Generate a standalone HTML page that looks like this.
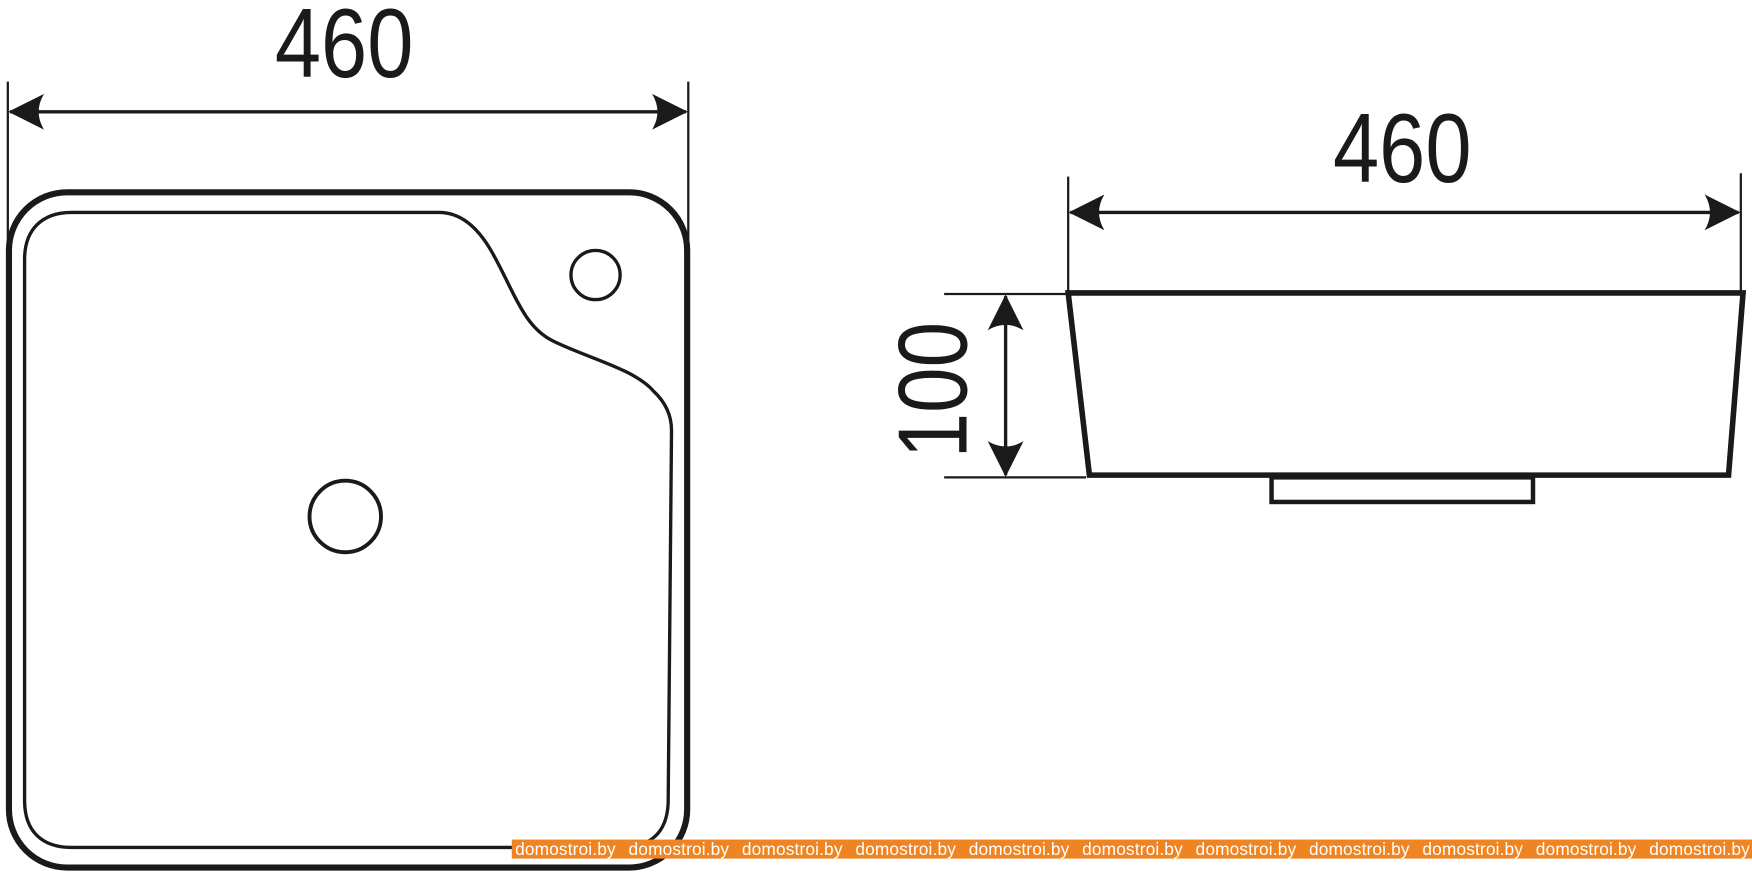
<!DOCTYPE html>
<html><head><meta charset="utf-8"><style>html,body{margin:0;padding:0;background:#fff}svg{display:block}</style></head>
<body>
<svg width="1752" height="872" viewBox="0 0 1568 780" preserveAspectRatio="none" xmlns="http://www.w3.org/2000/svg">
<defs>
<marker id="a" viewBox="0 0 20 20" refX="19" refY="10" markerWidth="32" markerHeight="32" markerUnits="userSpaceOnUse" orient="auto-start-reverse">
<path d="M0,0 L20,10 L0,20 Q6,10 0,0 Z" fill="#1a1a1a"/>
</marker>
</defs>
<g stroke="#1a1a1a" fill="none">
<line x1="7" y1="73" x2="7" y2="225" stroke-width="2"/>
<line x1="616" y1="73" x2="616" y2="225" stroke-width="2"/>
<line x1="9" y1="100" x2="614" y2="100" stroke-width="3" marker-start="url(#a)" marker-end="url(#a)"/>
<rect x="8" y="172" width="607" height="604" rx="52" stroke-width="5.5"/>
<path d="M22,232 C22,205 38,190 64,190 L393,190 Q420,190 440,225 C460,260 468,292 495,305 C525,320 568,330 585,350 Q601,365 601,385 L598,718 C597,745 582,758 555,758 L64,758 C38,758 22,744 22,716 Z" stroke-width="3"/>
<circle cx="533" cy="246" r="22" stroke-width="3"/>
<circle cx="309" cy="462" r="32" stroke-width="3.5"/>
<line x1="956" y1="158" x2="956" y2="262" stroke-width="2"/>
<line x1="1558" y1="155" x2="1558" y2="262" stroke-width="2"/>
<line x1="958" y1="190" x2="1556" y2="190" stroke-width="3" marker-start="url(#a)" marker-end="url(#a)"/>
<path d="M956,262 L1560,262 L1547,425 L975,425 Z" stroke-width="5" stroke-linejoin="miter"/>
<rect x="1138" y="427" width="234" height="22" stroke-width="4"/>
<line x1="845" y1="263" x2="955" y2="263" stroke-width="2"/>
<line x1="845" y1="427" x2="972" y2="427" stroke-width="2"/>
<line x1="900" y1="265" x2="900" y2="425" stroke-width="3" marker-start="url(#a)" marker-end="url(#a)"/>
</g>
<g font-family="Liberation Sans, sans-serif" fill="#1a1a1a">
<text x="308" y="69" font-size="88" text-anchor="middle" textLength="124" lengthAdjust="spacingAndGlyphs">460</text>
<text x="1255" y="163" font-size="88" text-anchor="middle" textLength="124" lengthAdjust="spacingAndGlyphs">460</text>
<text transform="translate(865,349) rotate(-90)" font-size="88" text-anchor="middle" textLength="122" lengthAdjust="spacingAndGlyphs">100</text>
</g>
<rect x="458" y="751" width="1110" height="17" fill="#ef8422"/>
<g font-family="Liberation Sans, sans-serif" font-size="15.5" fill="#fff">
<text x="461" y="765" textLength="90">domostroi.by</text><text x="562.5" y="765" textLength="90">domostroi.by</text><text x="664" y="765" textLength="90">domostroi.by</text><text x="765.5" y="765" textLength="90">domostroi.by</text><text x="867" y="765" textLength="90">domostroi.by</text><text x="968.5" y="765" textLength="90">domostroi.by</text><text x="1070" y="765" textLength="90">domostroi.by</text><text x="1171.5" y="765" textLength="90">domostroi.by</text><text x="1273" y="765" textLength="90">domostroi.by</text><text x="1374.5" y="765" textLength="90">domostroi.by</text><text x="1476" y="765" textLength="90">domostroi.by</text>
</g>
</svg>
</body></html>
